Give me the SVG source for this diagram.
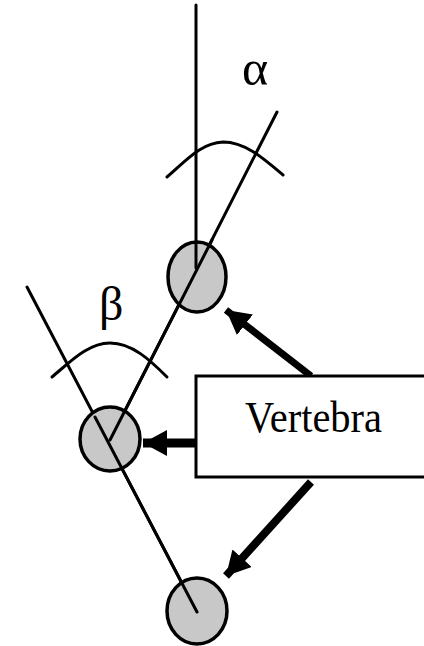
<svg xmlns="http://www.w3.org/2000/svg" width="424" height="646" viewBox="0 0 424 646">
<style>
.ln{stroke:#000;stroke-width:3;fill:none;stroke-linecap:round}
.vb{fill:#c8c8c8;stroke:#000;stroke-width:3.5}
.ar{stroke:#000;fill:none}
.t{font-family:"Liberation Serif","Times New Roman",serif;fill:#000}
</style>
<defs>
<marker id="ah" markerUnits="userSpaceOnUse" markerWidth="26" markerHeight="26" viewBox="0 0 26 26" refX="24" refY="13" orient="auto">
<path d="M0,0 L24,13 L0,26 Z" fill="#000"/>
</marker>
</defs>
<rect width="424" height="646" fill="#fff"/>
<g id="connectors">
<line class="ln" x1="196" y1="5" x2="196" y2="268"/>
<line class="ln" x1="277" y1="112" x2="110" y2="440"/>
<line class="ln" x1="27" y1="287" x2="197" y2="612"/>
<path class="ln" d="M167,177 C185,162 200,143 223,142 C245,142 263,158 283,175"/>
<path class="ln" d="M52,377 C70,362 88,343 110,343 C132,343 150,360 167,377"/>
<line class="ar" stroke-width="7" x1="311" y1="376" x2="226" y2="310" marker-end="url(#ah)"/>
<line class="ar" stroke-width="9" x1="196" y1="443" x2="143" y2="443" marker-end="url(#ah)"/>
<line class="ar" stroke-width="8" x1="311" y1="482" x2="226" y2="576" marker-end="url(#ah)"/>
</g>
<g id="vertebra-top"><ellipse class="vb" cx="197" cy="277" rx="29" ry="35"/></g>
<g id="vertebra-mid"><ellipse class="vb" cx="110" cy="439" rx="30" ry="32"/></g>
<g id="vertebra-bottom"><ellipse class="vb" cx="197" cy="611" rx="30" ry="33"/></g>
<g id="lines-over">
<line class="ln" x1="196" y1="242" x2="196" y2="268"/>
<line class="ln" x1="212" y1="240" x2="110" y2="440"/>
<line class="ln" x1="95" y1="417" x2="197" y2="612"/>
</g>
<g id="vertebra-label">
<path d="M424,376 L196,376 L196,477 L424,477" stroke="#000" stroke-width="3" fill="#fff"/>
<text class="t" x="245" y="432" font-size="44" textLength="137" lengthAdjust="spacingAndGlyphs">Vertebra</text>
</g>
<g id="alpha"><text class="t" x="242" y="85" font-size="50">α</text></g>
<g id="beta"><text class="t" x="99" y="320" font-size="48">β</text></g>
</svg>
